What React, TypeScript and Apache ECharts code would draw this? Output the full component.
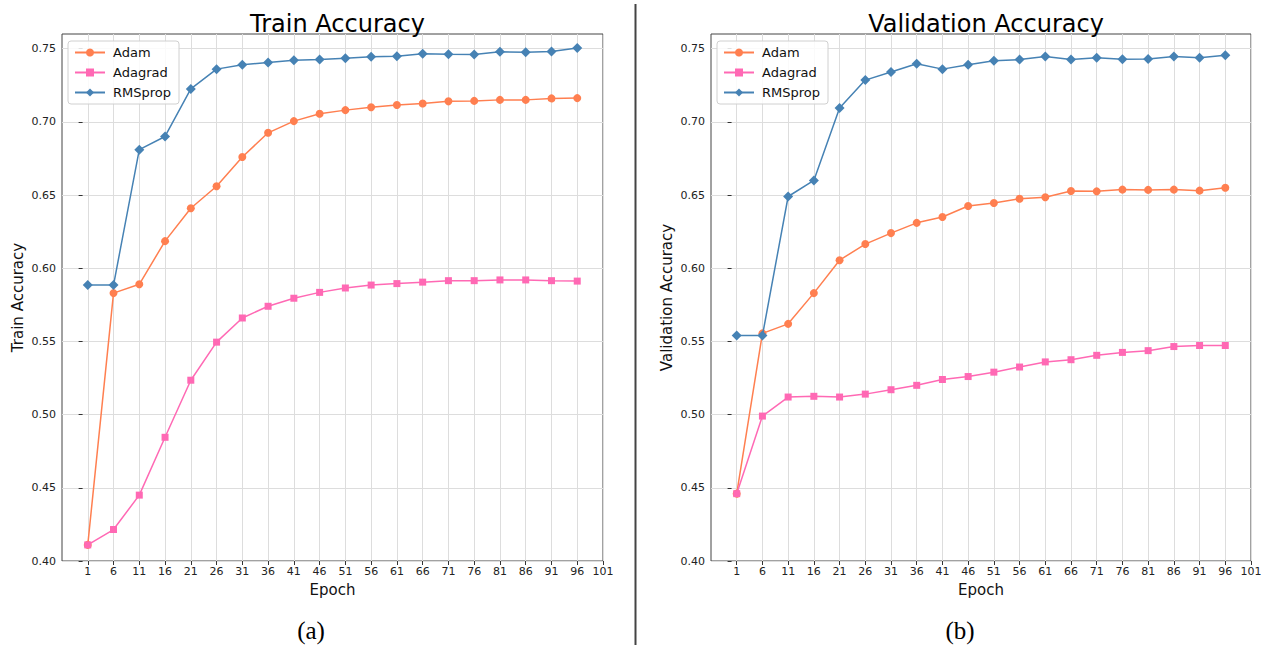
import React, { useEffect, useRef } from "react";
import * as echarts from "echarts";

const epochs = [1, 6, 11, 16, 21, 26, 31, 36, 41, 46, 51, 56, 61, 66, 71, 76, 81, 86, 91, 96];
const xTicks = [1, 6, 11, 16, 21, 26, 31, 36, 41, 46, 51, 56, 61, 66, 71, 76, 81, 86, 91, 96, 101];
const yTicks = [0.4, 0.45, 0.5, 0.55, 0.6, 0.65, 0.7, 0.75];

const trainAdam = [0.411, 0.583, 0.589, 0.6185, 0.641, 0.656, 0.676, 0.6925, 0.7005, 0.7055, 0.708, 0.71, 0.7115, 0.7125, 0.714, 0.7143, 0.715, 0.715, 0.716, 0.7162];
const trainAdagrad = [0.411, 0.4215, 0.445, 0.4845, 0.5235, 0.5495, 0.566, 0.574, 0.5795, 0.5835, 0.5865, 0.5885, 0.5895, 0.5905, 0.5915, 0.5915, 0.592, 0.592, 0.5915, 0.5912];
const trainRMSprop = [0.5885, 0.5885, 0.681, 0.69, 0.7225, 0.736, 0.739, 0.7405, 0.742, 0.7425, 0.7435, 0.7445, 0.7448, 0.7465, 0.7462, 0.746, 0.7478, 0.7475, 0.748, 0.7505];

const valAdam = [0.446, 0.5555, 0.562, 0.583, 0.6055, 0.6165, 0.624, 0.631, 0.635, 0.6425, 0.6445, 0.6475, 0.6485, 0.6528, 0.6525, 0.6537, 0.6535, 0.6537, 0.653, 0.655];
const valAdagrad = [0.446, 0.499, 0.512, 0.5125, 0.512, 0.514, 0.517, 0.52, 0.524, 0.526, 0.529, 0.5325, 0.536, 0.5375, 0.5405, 0.5425, 0.5437, 0.5465, 0.5472, 0.5472];
const valRMSprop = [0.554, 0.554, 0.649, 0.66, 0.7095, 0.7285, 0.734, 0.7397, 0.736, 0.739, 0.7418, 0.7425, 0.7447, 0.7425, 0.7438, 0.7428, 0.743, 0.7447, 0.7437, 0.7455];

const seriesNames = ["Adam", "Adagrad", "RMSprop"];
const colors = ["#FF7F50", "#FF69B4", "#4682B4"];
const symbols = ["circle", "rect", "diamond"];
const symbolSizes = [8, 7, 10];

const titles = ["Train Accuracy", "Validation Accuracy"];
const captions = ["(a)", "(b)"];

const FONT = "DejaVu Sans";

function pair(xs: number[], ys: number[]) {
  return xs.map((x, i) => [x, ys[i]]);
}

export default function App() {
  const ref = useRef<HTMLDivElement>(null);

  useEffect(() => {
    document.body.style.margin = "0";
    const chart = echarts.init(ref.current!, null, { renderer: "svg" });
    const grids = [
      { left: 62, top: 34, width: 541, height: 527 },
      { left: 711, top: 34, width: 540, height: 527 },
    ];
    const dataSets = [
      [trainAdam, trainAdagrad, trainRMSprop],
      [valAdam, valAdagrad, valRMSprop],
    ];

    const xAxes = grids.map((_, gi) => ({
      type: "value",
      gridIndex: gi,
      min: -4,
      max: 101,
      interval: 5,
      name: "Epoch",
      nameLocation: "middle",
      nameGap: 21,
      nameTextStyle: { fontFamily: FONT, fontSize: 15, color: "#111" },
      axisLine: { show: false },
      axisTick: {
        show: true,
        length: 4,
        customValues: xTicks,
        lineStyle: { color: "#333" },
      },
      axisLabel: {
        customValues: xTicks,
        fontFamily: FONT,
        fontSize: 11,
        color: "#222",
        margin: 5,
        formatter: (v: number) => (v < 0 ? "" : String(v)),
      },
      splitLine: { show: true, lineStyle: { color: "#dddddd", width: 1 } },
    }));

    const yAxes = grids.map((_, gi) => ({
      type: "value",
      gridIndex: gi,
      min: 0.4,
      max: 0.76,
      interval: 0.05,
      name: titles[gi],
      nameLocation: "middle",
      nameGap: 37,
      nameTextStyle: { fontFamily: FONT, fontSize: 15, color: "#111" },
      axisLine: { show: false },
      axisTick: {
        show: true,
        length: 4,
        customValues: yTicks,
        lineStyle: { color: "#333" },
      },
      axisLabel: {
        customValues: yTicks,
        fontFamily: FONT,
        fontSize: 11,
        color: "#222",
        margin: 6,
        showMinLabel: true,
        showMaxLabel: true,
        formatter: (v: number) => (v > 0.755 ? "" : v.toFixed(2)),
      },
      splitLine: { show: true, lineStyle: { color: "#dddddd", width: 1 } },
    }));

    const series: any[] = [];
    dataSets.forEach((set, gi) => {
      set.forEach((vals, si) => {
        series.push({
          type: "line",
          name: seriesNames[si],
          xAxisIndex: gi,
          yAxisIndex: gi,
          data: pair(epochs, vals),
          symbol: symbols[si],
          symbolSize: symbolSizes[si],
          showSymbol: true,
          color: colors[si],
          lineStyle: { width: 1.5, color: colors[si] },
          itemStyle: { color: colors[si] },
          z: 2 + si,
          emphasis: { disabled: true },
        });
      });
    });

    const legends = grids.map((g) => ({
      orient: "vertical",
      left: g.left + 6,
      top: 41,
      padding: [5, 8, 5, 6],
      itemGap: 7,
      itemWidth: 30,
      itemHeight: 10,
      backgroundColor: "rgba(255,255,255,0.85)",
      borderColor: "#d0d0d0",
      borderWidth: 1,
      borderRadius: 3,
      selectedMode: false,
      textStyle: { fontFamily: FONT, fontSize: 13, color: "#111", padding: [0, 0, 0, 3] },
      data: seriesNames,
    }));

    chart.setOption({
      animation: false,
      title: grids.map((g, gi) => ({
        text: titles[gi],
        left: g.left + g.width / 2,
        top: 7,
        textAlign: "center",
        textStyle: { fontFamily: FONT, fontSize: 24, fontWeight: "normal", color: "#000" },
      })),
      grid: grids.map((g) => ({
        ...g,
        show: true,
        borderColor: "#444",
        borderWidth: 1,
        backgroundColor: "#fff",
      })),
      legend: legends,
      xAxis: xAxes,
      yAxis: yAxes,
      series,
      graphic: [
        {
          type: "line",
          shape: { x1: 635.5, y1: 4, x2: 635.5, y2: 645 },
          style: { stroke: "#444", lineWidth: 2 },
        },
        {
          type: "text",
          x: 311,
          y: 630,
          style: {
            text: captions[0],
            fontFamily: "Liberation Serif",
            fontSize: 25,
            fill: "#000",
            textAlign: "center",
            textVerticalAlign: "middle",
          },
        },
        {
          type: "text",
          x: 960,
          y: 630,
          style: {
            text: captions[1],
            fontFamily: "Liberation Serif",
            fontSize: 25,
            fill: "#000",
            textAlign: "center",
            textVerticalAlign: "middle",
          },
        },
      ],
    });
    return () => chart.dispose();
  }, []);

  return (
    <div
      ref={ref}
      style={{ position: "absolute", left: 0, top: 0, width: 1268, height: 645 }}
    />
  );
}
